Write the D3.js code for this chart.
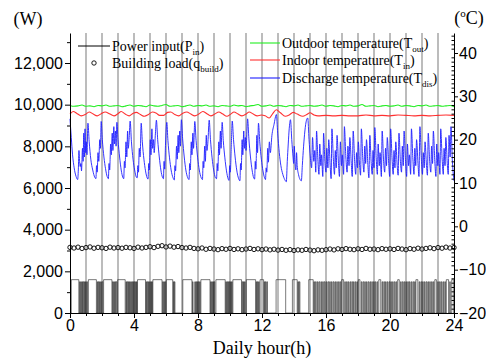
<!DOCTYPE html>
<html>
<head>
<meta charset="utf-8">
<script src="https://cdn.jsdelivr.net/npm/d3@7"></script>
<style>
  body { margin: 0; background: #fff; }
</style>
</head>
<body>
<div id="chart"></div>
<script>
// ---- data ----
// outdoor / building load sampled every 0.25 h from 0 to 24
const outdoorTemp = [
  27.9,27.7,27.8,28.0,27.7,27.8,27.6,27.9,27.8,28.0,27.7,27.8,27.9,27.6,27.8,28.0,
  27.7,27.9,27.8,27.6,28.0,27.8,27.7,27.9,28.1,27.7,27.8,27.9,27.6,27.8,28.0,27.7,
  27.9,27.8,28.0,27.7,27.8,27.6,27.9,27.8,27.7,28.0,27.8,27.9,27.6,27.8,27.9,28.1,
  27.7,27.8,28.0,27.7,27.9,27.8,27.6,27.9,27.8,28.0,27.7,27.8,27.9,27.7,27.8,28.0,
  27.7,27.9,27.8,27.6,27.9,27.8,28.0,27.7,27.8,28.1,27.7,27.8,27.9,27.6,27.8,27.9,
  27.7,27.8,28.0,27.7,27.9,27.8,27.6,27.9,27.8,28.0,27.7,27.8,27.9,27.7,27.8,27.9,27.6
];

const buildingLoad = [
  3150,3120,3160,3100,3140,3170,3110,3150,3130,3100,3160,3120,3140,3110,3150,3130,
  3100,3160,3120,3150,3180,3140,3200,3230,3170,3210,3160,3190,3140,3120,3150,3100,
  3080,3120,3060,3100,3070,3040,3090,3060,3100,3050,3080,3040,3070,3100,3050,3080,
  3040,3070,3030,3060,3020,3050,3010,3040,3000,3030,3010,3050,3020,2990,3030,3010,
  3040,3070,3030,3080,3050,3090,3060,3040,3080,3050,3100,3060,3070,3040,3090,3060,
  3080,3050,3100,3070,3040,3090,3060,3110,3070,3100,3130,3090,3140,3110,3160,3120,3140
];

// indoor temperature [hour, degC]
const indoorTemp = [
  [0,25.9],[0.2,26.5],[0.45,26.0],[0.7,25.5],[0.95,25.8],[1.2,26.4],[1.45,25.9],[1.7,25.5],
  [1.95,26.0],[2.2,26.4],[2.5,25.9],[2.75,25.5],[3.0,26.0],[3.2,26.5],[3.45,25.9],[3.7,25.5],
  [3.95,26.1],[4.15,26.3],[4.4,25.8],[4.65,25.4],[4.9,25.8],[5.15,26.4],[5.4,26.1],[5.6,25.6],
  [5.85,25.6],[6.1,26.3],[6.3,26.4],[6.55,25.8],[6.8,25.5],[7.05,26.1],[7.3,26.4],[7.55,25.9],
  [7.8,25.5],[8.05,25.9],[8.3,26.5],[8.55,26.0],[8.8,25.5],[9.05,25.9],[9.3,26.4],[9.55,25.9],
  [9.8,25.4],[10.05,25.9],[10.25,26.4],[10.5,25.9],[10.75,25.5],[11.0,25.9],[11.2,26.4],[11.45,25.9],
  [11.7,25.5],[11.95,25.7],[12.2,25.5],[12.45,25.0],[12.65,25.9],[12.9,26.9],[13.15,26.2],[13.45,25.4],
  [13.7,25.7],[13.95,26.3],[14.2,25.9],[14.55,25.4],[14.8,25.8],[15.0,26.2],[15.25,25.7],[15.5,25.5],
  [16,25.6],[16.5,25.5],[17,25.6],[17.5,25.5],[18,25.5],[18.5,25.7],[19,25.5],[19.5,25.6],
  [20,25.5],[20.5,25.7],[21,25.6],[21.5,25.5],[22,25.6],[22.5,25.5],[23,25.6],[23.5,25.7],[24,25.6]
];

// discharge temperature [hour, degC]
const dischargeTemp = [
  [0.00,24.8],[0.08,20.5],[0.16,16.5],[0.26,13.5],[0.38,11.5],[0.48,10.8],
  [0.52,13],[0.56,17.5],[0.60,15],[0.64,13.8],[0.68,14.5],[0.72,12.8],[0.78,18],[0.82,15],[0.86,21.5],[0.90,16],[0.94,22.5],[0.98,17],[1.02,19.5],[1.06,16.5],[1.12,23.8],
  [1.20,19.5],[1.30,15.5],[1.42,13],[1.55,11.3],[1.62,11.0],
  [1.66,14],[1.70,12.5],[1.75,17],[1.80,15],[1.86,20],[1.90,18],[1.95,24.2],
  [2.02,20],[2.12,16],[2.22,13.3],[2.32,11.5],[2.40,11.0],
  [2.44,14.5],[2.48,13],[2.54,19],[2.58,16.5],[2.64,21.5],[2.68,17.5],[2.74,23],[2.78,19],[2.84,22],[2.88,18.5],[2.93,24.0],
  [3.00,20],[3.10,16],[3.20,13],[3.30,11.3],[3.36,11.0],
  [3.40,15],[3.44,13.5],[3.50,19.5],[3.55,16],[3.60,22],[3.64,18],[3.70,20.5],[3.76,24.3],
  [3.84,19.5],[3.94,15.5],[4.04,13],[4.14,11.4],[4.20,11.2],
  [4.24,14],[4.28,12.5],[4.33,18],[4.38,16],[4.45,23.8],
  [4.52,19.5],[4.62,15.5],[4.72,12.8],[4.82,11.2],[4.88,10.9],
  [4.92,14.5],[4.96,13],[5.02,20],[5.06,16.5],[5.12,22.5],[5.16,18],[5.22,20],[5.26,17],[5.34,21.5],[5.40,24.5],
  [5.48,20],[5.58,16],[5.68,13],[5.78,11.3],[5.84,11.0],
  [5.88,15],[5.92,13.2],[5.97,19],[6.05,24.0],
  [6.12,19.8],[6.22,15.8],[6.32,13],[6.44,11.2],[6.52,10.7],
  [6.56,14],[6.60,12.8],[6.66,18.5],[6.70,15.5],[6.76,21],[6.80,17],[6.86,22],[6.90,18.5],[6.96,24.6],
  [7.04,20.2],[7.14,16],[7.24,13],[7.36,11.2],[7.44,10.8],
  [7.48,14.5],[7.52,13],[7.58,19.5],[7.62,16.5],[7.68,21.5],[7.72,18],[7.80,24.2],
  [7.88,19.8],[7.98,15.8],[8.08,13],[8.20,11.2],[8.28,10.8],
  [8.32,15],[8.36,13.5],[8.42,18.5],[8.46,15],[8.52,21],[8.56,17.5],[8.62,19.5],[8.70,24.5],
  [8.78,20],[8.88,15.8],[8.98,13],[9.08,11.3],[9.16,11.0],
  [9.20,14.5],[9.24,12.8],[9.30,19.5],[9.34,16.5],[9.40,22],[9.44,18],[9.51,24.0],
  [9.58,19.8],[9.68,15.8],[9.78,12.8],[9.88,11.0],[9.94,10.6],
  [9.98,14],[10.02,12.5],[10.08,18.5],[10.14,24.3],
  [10.22,20],[10.32,16],[10.42,13],[10.54,11.0],[10.62,10.5],
  [10.66,14.5],[10.70,13],[10.76,20],[10.80,16.5],[10.86,22],[10.90,18],[10.96,20.5],[11.00,17.5],[11.10,24.8],
  [11.18,20.2],[11.28,16],[11.38,13],[11.48,11.2],[11.54,10.9],
  [11.58,15],[11.62,13.2],[11.68,21],[11.72,17],[11.78,23.8],
  [11.86,19.5],[11.96,15.5],[12.06,12.8],[12.16,11.2],[12.22,10.8],
  [12.26,13.5],[12.30,12.5],[12.36,18],[12.40,14.8],[12.46,19.5],[12.52,17],[12.62,21],[12.75,23.5],[12.90,25.8],
  [12.98,21.5],[13.08,17],[13.18,14],[13.30,12],[13.42,10.8],[13.52,10.3],
  [13.58,15],[13.64,19],[13.70,22.5],[13.78,24.6],
  [13.86,20],[13.94,16],[13.98,14.5],[14.02,18.5],[14.06,15],[14.12,13],[14.16,17],[14.20,14],[14.28,12],[14.38,10.8],[14.46,10.5],
  [14.52,14],[14.60,18.5],[14.68,22],[14.78,24.5],[14.86,25],
  [14.94,20],[15.02,16],[15.10,13.5],
  [15.16,20.5],[15.24,15],[15.30,17.5],[15.36,12.5],[15.41,22],[15.49,15.5],[15.56,12],
  [15.61,19],[15.68,14],[15.72,16.5],[15.80,11.5],[15.85,21.5],[15.93,15],[16.00,12.5],
  [16.05,18],[16.12,13.5],[16.17,20],[16.26,14],[16.32,11],[16.37,22.5],[16.46,15.5],[16.53,12],
  [16.58,17.5],[16.64,13.5],[16.69,21],[16.78,14.5],[16.84,11.5],[16.90,19.5],[16.97,14],[17.02,16.5],[17.10,12],
  [17.15,23],[17.24,16],[17.32,12.5],[17.37,18.5],[17.44,14],[17.49,20.5],[17.58,14.5],[17.64,11.5],
  [17.70,22],[17.79,15],[17.86,12],[17.91,17],[17.97,13.5],[18.02,19.5],[18.10,14],[18.16,11.8],
  [18.21,22.5],[18.30,15.5],[18.37,12.5],[18.42,18.5],[18.48,14.5],[18.53,20],[18.62,14],[18.68,11.2],
  [18.74,21],[18.82,15],[18.89,12],[18.94,17.5],[19.00,13.5],[19.05,22.8],[19.14,15.5],[19.21,12],
  [19.26,19],[19.33,14],[19.38,17],[19.46,11.5],[19.51,22],[19.60,15],[19.67,12.5],
  [19.72,18],[19.78,14],[19.83,20.5],[19.92,14.5],[19.98,11.5],[20.04,22.5],[20.13,15.5],[20.20,12],
  [20.25,17.5],[20.31,13.5],[20.36,19.5],[20.45,14],[20.51,11.8],[20.56,21.5],[20.65,15],[20.72,12.5],
  [20.77,18.5],[20.83,14],[20.88,22],[20.97,15],[21.04,11.5],[21.09,19],[21.16,14],[21.21,16.5],[21.29,12],
  [21.34,22.5],[21.43,15.5],[21.50,12],[21.55,18],[21.61,14],[21.66,20],[21.75,14.5],[21.81,11.5],
  [21.87,23],[21.96,15.5],[22.03,12],[22.08,17],[22.14,13.5],[22.19,19.5],[22.28,14],[22.34,11.8],
  [22.39,21.5],[22.48,15],[22.55,12.5],[22.60,18.5],[22.66,14.5],[22.71,22],[22.80,15],[22.87,11.5],
  [22.92,19],[22.99,14],[23.04,17],[23.12,12],[23.17,22.5],[23.26,15.5],[23.33,12],
  [23.38,18],[23.44,14],[23.49,20.5],[23.58,14.5],[23.64,12],[23.69,21],[23.76,16],[23.81,23],[23.90,15],[24.0,10.5]
];

// power input: long "on" blocks and short cycling pulses [start h, end h]
const blockPower = 1600, pulsePower = 1500;
const powerBlocks = [
  [0.08,0.55],[1.15,1.65],[2.10,2.62],[2.98,3.45],[4.22,4.72],[5.18,5.75],[6.02,6.42],[7.05,7.62],
  [8.18,8.75],[9.12,9.70],[10.18,10.72],[11.02,11.60],[11.88,12.10],[12.88,13.48],[13.90,14.20],[14.92,15.20],
  [16.98,17.10],[18.02,18.12],[19.30,19.42],[20.48,20.58],[21.62,21.74],[22.80,22.90],[23.52,23.66],[23.86,23.98]
];
const powerPulses = [
  [0.60,0.63],[0.67,0.71],[0.75,0.78],[0.82,0.86],[0.90,0.93],[0.97,1.01],[1.05,1.09],
  [1.70,1.73],[1.77,1.81],[1.85,1.88],[1.92,1.96],[2.00,2.05],
  [2.66,2.70],[2.74,2.77],[2.81,2.85],[2.89,2.94],
  [3.50,3.53],[3.57,3.61],[3.65,3.68],[3.72,3.76],[3.80,3.83],[3.87,3.91],[3.95,3.98],[4.02,4.06],[4.10,4.13],[4.16,4.19],
  [4.76,4.79],[4.83,4.87],[4.91,4.94],[4.98,5.02],[5.06,5.09],[5.12,5.15],
  [5.79,5.83],[5.87,5.90],[5.94,5.98],
  [6.46,6.49],[6.52,6.56],
  [7.66,7.69],[7.80,7.83],[7.87,7.91],[7.95,7.98],[8.02,8.06],[8.10,8.14],
  [8.79,8.82],[8.86,8.90],[8.94,8.97],[9.01,9.05],
  [9.74,9.77],[9.81,9.85],[9.89,9.92],[9.96,10.00],[10.04,10.07],[10.10,10.14],
  [10.76,10.80],[10.84,10.87],[10.91,10.95],
  [11.64,11.67],[11.71,11.75],[11.79,11.83],
  [12.14,12.17],[12.21,12.25],[12.30,12.34],
  [14.24,14.28],[14.33,14.37],
  [15.24,15.28],[15.34,15.39],[15.46,15.50],[15.56,15.61],[15.68,15.72],[15.79,15.83],[15.89,15.94],[16.01,16.05],
  [16.12,16.17],[16.23,16.27],[16.34,16.38],[16.45,16.50],[16.56,16.60],[16.67,16.71],[16.78,16.83],[16.89,16.93],
  [17.17,17.21],[17.28,17.33],[17.39,17.43],[17.50,17.54],[17.61,17.66],[17.72,17.76],[17.83,17.87],[17.93,17.97],
  [18.20,18.24],[18.31,18.36],[18.42,18.46],[18.53,18.57],[18.64,18.69],[18.75,18.79],[18.86,18.90],[18.97,19.02],
  [19.08,19.12],[19.19,19.23],[19.50,19.54],[19.61,19.66],[19.72,19.76],[19.83,19.87],[19.94,19.99],[20.05,20.09],
  [20.16,20.20],[20.27,20.32],[20.38,20.42],[20.66,20.70],[20.77,20.82],[20.88,20.92],[20.99,21.03],[21.10,21.15],
  [21.21,21.25],[21.32,21.36],[21.43,21.48],[21.54,21.58],[21.82,21.86],[21.93,21.98],[22.04,22.08],[22.15,22.19],
  [22.26,22.31],[22.37,22.41],[22.48,22.52],[22.59,22.64],[22.70,22.74],[22.98,23.02],[23.09,23.14],[23.20,23.24],
  [23.31,23.35],[23.42,23.47],[23.73,23.77]
];

const leftTicks = [0, 2000, 4000, 6000, 8000, 10000, 12000];
const rightTicks = [-20, -10, 0, 10, 20, 30, 40];
const hourTicks = [0, 4, 8, 12, 16, 20, 24];

// ---- chart ----
const width = 486, height = 362;
const margin = { top: 33, right: 32, bottom: 49, left: 70 };
const sansFont = "'Liberation Sans', Arial, sans-serif";
const serifFont = "'Liberation Serif', 'Times New Roman', serif";

const svg = d3.select("#chart").append("svg")
  .attr("width", width)
  .attr("height", height);

const x = d3.scaleLinear().domain([0, 24]).range([margin.left, width - margin.right]);
const yPow = d3.scaleLinear().domain([0, 13440]).range([height - margin.bottom, margin.top]);
const yTemp = d3.scaleLinear().domain([-20, 44.615]).range([height - margin.bottom, margin.top]);

// hourly vertical lines
svg.append("g")
  .selectAll("line")
  .data(d3.range(1, 24))
  .join("line")
  .attr("x1", d => x(d)).attr("x2", d => x(d))
  .attr("y1", yPow.range()[1]).attr("y2", yPow.range()[0])
  .attr("stroke", "#a6a6a6")
  .attr("stroke-width", 1.5);

// power input step line
const powerIntervals = powerBlocks.map(d => [d[0], d[1], blockPower])
  .concat(powerPulses.map(d => [d[0], d[1], pulsePower]))
  .sort((a, b) => a[0] - b[0]);
const powerPts = [[0, 0]];
powerIntervals.forEach(([s, e, w]) => {
  powerPts.push([s, 0], [s, w], [e, w], [e, 0]);
});
powerPts.push([24, 0]);

svg.append("path")
  .datum(powerPts)
  .attr("fill", "none")
  .attr("stroke", "#222")
  .attr("stroke-width", 0.6)
  .attr("d", d3.line().x(d => x(d[0])).y(d => yPow(d[1])));

// building load circles
svg.append("g")
  .selectAll("circle")
  .data(buildingLoad)
  .join("circle")
  .attr("cx", (d, i) => x(i * 0.25))
  .attr("cy", d => yPow(d))
  .attr("r", 2.2)
  .attr("fill", "none")
  .attr("stroke", "#000")
  .attr("stroke-width", 0.9);

// temperatures
const tempLine = d3.line()
  .x(d => x(d[0]))
  .y(d => yTemp(d[1]))
  .curve(d3.curveMonotoneX);

svg.append("path")
  .datum(outdoorTemp.map((t, i) => [i * 0.25, t]))
  .attr("fill", "none")
  .attr("stroke", "#22ee22")
  .attr("stroke-width", 1.1)
  .attr("d", tempLine);

svg.append("path")
  .datum(indoorTemp)
  .attr("fill", "none")
  .attr("stroke", "#ff3030")
  .attr("stroke-width", 1.1)
  .attr("d", tempLine);

svg.append("path")
  .datum(dischargeTemp)
  .attr("fill", "none")
  .attr("stroke", "#1e1eff")
  .attr("stroke-width", 0.9)
  .attr("d", tempLine);

// axes
const yBottom = height - margin.bottom;

svg.append("g")
  .attr("transform", `translate(${margin.left},0)`)
  .call(d3.axisLeft(yPow).tickValues(leftTicks).tickFormat(d3.format(",")).tickSize(5).tickSizeOuter(0).tickPadding(2));
svg.append("g")
  .attr("transform", `translate(${margin.left},0)`)
  .call(d3.axisLeft(yPow).tickValues(leftTicks.map(d => d + 1000)).tickFormat("").tickSize(3).tickSizeOuter(0))
  .select(".domain").remove();

svg.append("g")
  .attr("transform", `translate(${width - margin.right},0)`)
  .call(d3.axisRight(yTemp).tickValues(rightTicks).tickSize(4).tickSizeOuter(0).tickPadding(1));
svg.append("g")
  .attr("transform", `translate(${width - margin.right},0)`)
  .call(d3.axisRight(yTemp).tickValues(d3.range(-19, 45).filter(d => d % 10 !== 0)).tickFormat("").tickSize(-2.5).tickSizeOuter(0))
  .select(".domain").remove();

svg.append("g")
  .attr("transform", `translate(0,${yBottom})`)
  .call(d3.axisBottom(x).tickValues(hourTicks).tickSize(5).tickSizeOuter(0).tickPadding(2));
svg.append("g")
  .attr("transform", `translate(0,${yBottom})`)
  .call(d3.axisBottom(x).tickValues(d3.range(1, 24).filter(d => d % 4 !== 0)).tickFormat("").tickSize(3).tickSizeOuter(0))
  .select(".domain").remove();

svg.selectAll(".tick text")
  .attr("font-family", sansFont)
  .attr("font-size", "16px")
  .attr("fill", "#000");
svg.selectAll(".domain, .tick line").attr("stroke", "#000");

// axis titles
svg.append("text")
  .attr("x", 28).attr("y", 25)
  .attr("text-anchor", "middle")
  .attr("font-family", serifFont).attr("font-size", "18px")
  .text("(W)");

const degText = svg.append("text")
  .attr("x", 469).attr("y", 24)
  .attr("text-anchor", "middle")
  .attr("font-family", serifFont).attr("font-size", "18px");
degText.append("tspan").text("(");
degText.append("tspan").attr("font-size", "11px").attr("dy", -7).text("o");
degText.append("tspan").attr("dy", 7).text("C)");

svg.append("text")
  .attr("x", 262).attr("y", 354)
  .attr("text-anchor", "middle")
  .attr("font-family", serifFont).attr("font-size", "18px")
  .text("Daily hour(h)");

// legend
function legendLabel(xPos, yPos, main, sub) {
  const t = svg.append("text")
    .attr("x", xPos).attr("y", yPos)
    .attr("font-family", serifFont).attr("font-size", "14px");
  t.append("tspan").text(main);
  t.append("tspan").attr("font-size", "9px").attr("dy", 4).text(sub);
  t.append("tspan").attr("dy", -4).text(")");
}

svg.append("line")
  .attr("x1", 78).attr("x2", 110).attr("y1", 46).attr("y2", 46)
  .attr("stroke", "#000");
legendLabel(112, 51, "Power input(P", "in");
svg.append("circle")
  .attr("cx", 94).attr("cy", 63).attr("r", 2.2)
  .attr("fill", "none").attr("stroke", "#000").attr("stroke-width", 0.9);
legendLabel(112, 68, "Building load(q", "build");

const tempLegend = [
  { label: "Outdoor temperature(T", sub: "out", color: "#22ee22", y: 43 },
  { label: "Indoor temperature(T", sub: "in", color: "#ff3030", y: 60 },
  { label: "Discharge temperature(T", sub: "dis", color: "#1e1eff", y: 78 }
];
tempLegend.forEach(d => {
  svg.append("line")
    .attr("x1", 250).attr("x2", 280).attr("y1", d.y).attr("y2", d.y)
    .attr("stroke", d.color).attr("stroke-width", 1.1);
  legendLabel(282, d.y + 5, d.label, d.sub);
});
</script>
</body>
</html>
